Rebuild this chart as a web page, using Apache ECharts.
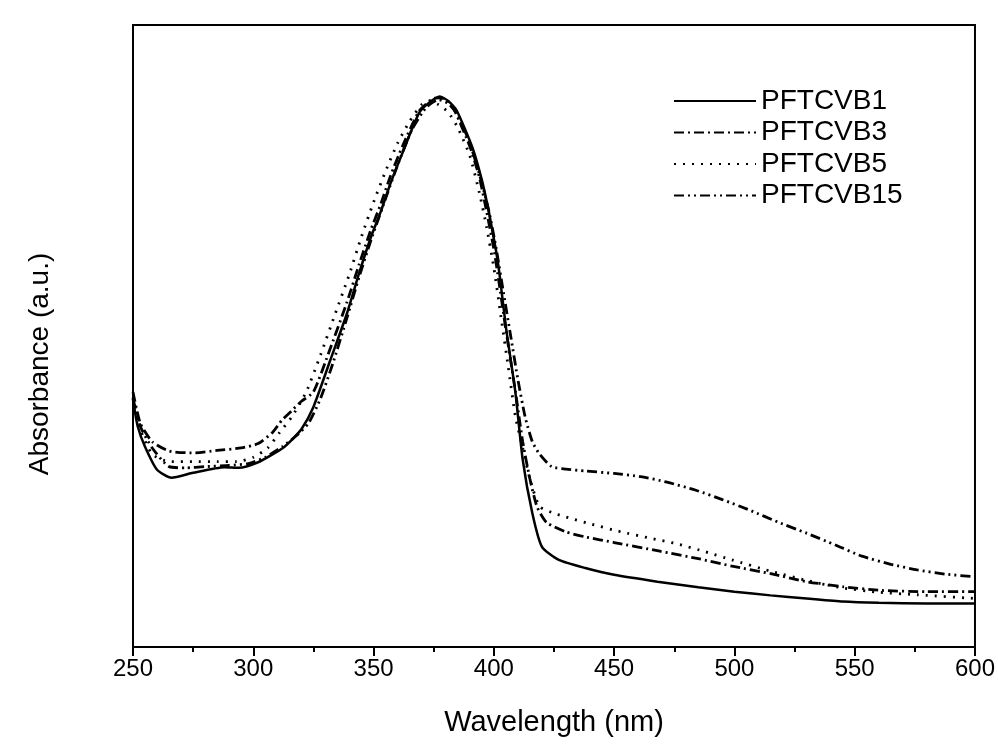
<!DOCTYPE html>
<html>
<head>
<meta charset="utf-8">
<script src="https://cdn.jsdelivr.net/npm/echarts@6/dist/echarts.min.js"></script>
<style>
html,body{margin:0;padding:0;background:#fff;}
#chart{width:998px;height:744px;}
</style>
</head>
<body>
<div id="chart"></div>
<script>
// Wavelength (nm) / absorbance (a.u., normalised to plot height) per series
const seriesNames = ['PFTCVB1', 'PFTCVB3', 'PFTCVB5', 'PFTCVB15'];
const xTicks = [250, 300, 350, 400, 450, 500, 550, 600];

const wl1 = [250,252,255,260,266,275,288,294,302,309,313,316,320,325,332,339,344,349,353,357,362,369,374,377.5,381,384.5,391,395,398,401,402.5,405,409,412,416,420,427,438,450,468,485,500,515,530,545,560,580,600];
const ab1 = [0.397,0.354,0.322,0.285,0.272,0.280,0.289,0.288,0.297,0.312,0.322,0.333,0.350,0.386,0.461,0.537,0.601,0.660,0.700,0.745,0.794,0.859,0.878,0.885,0.878,0.863,0.804,0.751,0.698,0.635,0.595,0.515,0.408,0.301,0.215,0.161,0.140,0.127,0.116,0.105,0.096,0.089,0.083,0.078,0.073,0.071,0.070,0.070];

const wl3 = [250,253,258,265,275,285,295,302,308,312,316,320,325,332,339,344,349,353,357,362,369,375,378,382,384,390,394,397,400,402,405,409,412,415,418,422,430,438,450,469,485,499,515,530,545,561,580,600];
const ab3 = [0.410,0.360,0.330,0.315,0.312,0.316,0.320,0.327,0.345,0.365,0.380,0.395,0.410,0.480,0.555,0.615,0.672,0.712,0.757,0.805,0.862,0.882,0.883,0.874,0.860,0.805,0.755,0.700,0.640,0.590,0.510,0.410,0.330,0.270,0.225,0.200,0.185,0.177,0.168,0.154,0.142,0.130,0.118,0.105,0.097,0.091,0.089,0.089];

const wl5 = [250,253,258,265,275,285,293,300,306,311,316,322,328,334,340,345,350,355,360,365,370,373,377,381,385,390,394,397,400,403,406,409,412,415,419,425,430,440,453,465,476,488,499,515,530,545,560,576,600];
const ab5 = [0.400,0.350,0.310,0.298,0.298,0.298,0.298,0.305,0.320,0.345,0.370,0.410,0.470,0.535,0.600,0.660,0.715,0.765,0.810,0.845,0.872,0.878,0.872,0.860,0.835,0.790,0.730,0.675,0.610,0.530,0.450,0.370,0.320,0.270,0.226,0.215,0.209,0.198,0.185,0.175,0.166,0.153,0.140,0.122,0.107,0.095,0.088,0.084,0.078];

const wl15 = [250,253,258,265,272,280,290,298,305,312,318,323,328,333,339,344,349,354,360,366,372,377,381,385,390,394,398,401,404,407,410,413,416,419,424,430,438,450,461,472,484,495,507,518,530,542,553,565,576,588,600];
const ab15 = [0.400,0.355,0.320,0.290,0.288,0.290,0.292,0.295,0.305,0.322,0.340,0.360,0.400,0.455,0.530,0.595,0.655,0.710,0.775,0.832,0.868,0.880,0.874,0.855,0.810,0.760,0.700,0.640,0.570,0.500,0.430,0.370,0.330,0.310,0.290,0.286,0.283,0.279,0.274,0.265,0.252,0.237,0.219,0.201,0.183,0.164,0.146,0.133,0.124,0.117,0.113];

const pairs = (xs, ys) => xs.map((x, i) => [x, ys[i]]);
const dashes = ['solid', [10, 4, 2, 4], [2, 7], [10, 4, 2, 4, 2, 4]];
const datasets = [pairs(wl1, ab1), pairs(wl3, ab3), pairs(wl5, ab5), pairs(wl15, ab15)];

const font = 'Liberation Sans, Arial, sans-serif';
const chart = echarts.init(document.getElementById('chart'));
chart.setOption({
  backgroundColor: '#fff',
  animation: false,
  grid: { left: 133, right: 21, top: 25, bottom: 97, show: true, borderColor: '#000', borderWidth: 2 },
  legend: {
    orient: 'vertical', left: 668, top: 82, itemWidth: 82, itemHeight: 4, itemGap: 3.5,
    data: seriesNames,
    itemStyle: { opacity: 0 },
    textStyle: { fontFamily: font, fontSize: 28, color: '#000', lineHeight: 28 }
  },
  xAxis: {
    type: 'value', min: 250, max: 600, interval: 50,
    name: 'Wavelength (nm)', nameLocation: 'middle', nameGap: 61,
    nameTextStyle: { fontFamily: font, fontSize: 29, color: '#000' },
    axisLine: { lineStyle: { color: '#000', width: 2 } },
    axisTick: { inside: false, length: 9, lineStyle: { color: '#000', width: 2 } },
    minorTick: { show: true, splitNumber: 2, length: 5, lineStyle: { color: '#000', width: 2 } },
    axisLabel: { fontFamily: font, fontSize: 24, color: '#000', margin: 10,
      formatter: v => xTicks.includes(v) ? String(v) : '' },
    splitLine: { show: false }
  },
  yAxis: {
    type: 'value', min: 0, max: 1,
    axisLine: { show: true, lineStyle: { color: '#000', width: 2 } },
    axisTick: { show: false }, axisLabel: { show: false }, splitLine: { show: false }
  },
  graphic: [{
    type: 'text', x: 40, y: 364, rotation: Math.PI / 2,
    style: { text: 'Absorbance (a.u.)', fontFamily: font, fontSize: 28, fill: '#000',
      textAlign: 'center', textVerticalAlign: 'middle' }
  }],
  series: seriesNames.map((n, i) => ({
    name: n, type: 'line', data: datasets[i], symbol: 'none', smooth: 0.2,
    color: '#000',
    lineStyle: { color: '#000', width: i === 0 ? 2.5 : 2.8, type: dashes[i] }
  }))
});
</script>
</body>
</html>
